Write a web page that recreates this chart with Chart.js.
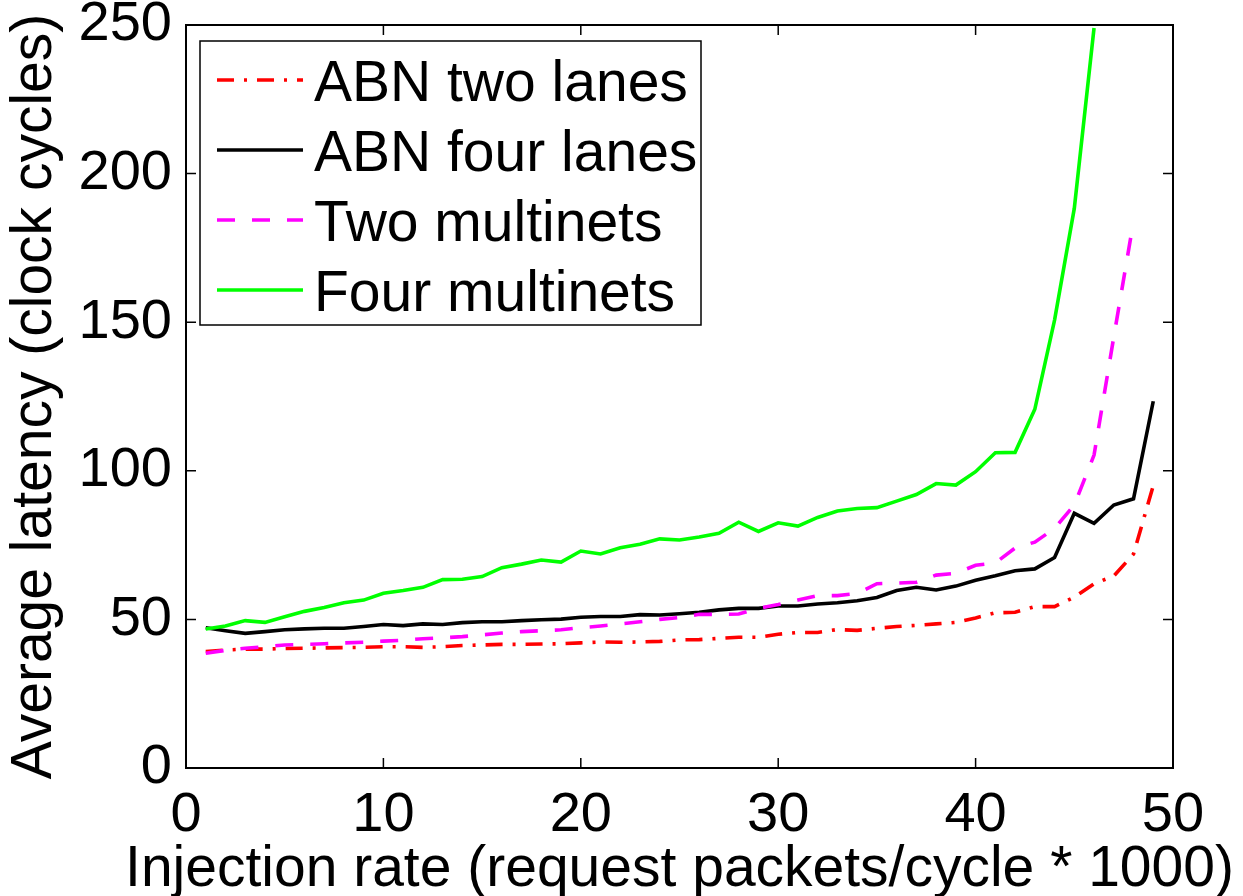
<!DOCTYPE html>
<html>
<head>
<meta charset="utf-8">
<title>Average latency vs injection rate</title>
<script src="https://cdn.jsdelivr.net/npm/chart.js@4/dist/chart.umd.min.js"></script>
<style>
  html, body { margin: 0; padding: 0; background: #fff; }
  #wrap { width: 1243px; height: 896px; position: relative; }
</style>
</head>
<body>
<div id="wrap"><canvas id="chart"></canvas></div>
<script>
'use strict';

const FONT = '"Liberation Sans", Arial, Helvetica, sans-serif';

// injection rate (request packets/cycle * 1000)
const rates = [
  1, 2, 3, 4, 5, 6, 7, 8, 9, 10,
  11, 12, 13, 14, 15, 16, 17, 18, 19, 20,
  21, 22, 23, 24, 25, 26, 27, 28, 29, 30,
  31, 32, 33, 34, 35, 36, 37, 38, 39, 40,
  41, 42, 43, 44, 45, 46, 47, 48, 49
];

const abnTwoLanes = [
  39.2, 39.7, 40.0, 40.0, 40.2, 40.3, 40.4, 40.5, 40.6, 40.8,
  40.8, 40.6, 40.8, 41.2, 41.4, 41.6, 41.6, 41.7, 41.8, 42.1,
  42.4, 42.3, 42.4, 42.6, 43.1, 43.2, 43.6, 44.0, 44.0, 45.0,
  45.6, 45.6, 46.6, 46.3, 47.0, 47.6, 48.0, 48.5, 49.0, 50.5,
  52.2, 52.4, 54.3, 54.3, 57.5, 62.0, 64.6, 72.0, 95.0
];

const abnFourLanes = [
  47.2, 46.2, 45.3, 45.9, 46.5, 46.8, 47.0, 47.0, 47.6, 48.3,
  47.9, 48.5, 48.3, 48.9, 49.2, 49.2, 49.6, 49.9, 50.1, 50.7,
  51.0, 51.0, 51.6, 51.5, 51.9, 52.4, 53.2, 53.7, 53.7, 54.5,
  54.5, 55.2, 55.6, 56.3, 57.4, 59.7, 60.8, 59.9, 61.2, 63.2,
  64.7, 66.4, 67.0, 70.8, 85.7, 82.3, 88.5, 90.6, 123.4
];

const twoMultinets = [
  38.6, 39.6, 40.3, 40.8, 41.4, 41.6, 41.8, 42.1, 42.3, 42.7,
  43.0, 43.5, 43.8, 44.2, 44.8, 45.4, 45.9, 46.2, 46.5, 47.2,
  47.8, 48.5, 49.2, 50.0, 50.6, 51.7, 51.7, 51.8, 53.7, 55.0,
  56.5, 58.0, 58.0, 58.7, 62.0, 62.2, 62.5, 64.9, 65.5, 68.2,
  69.0, 74.0, 76.0, 80.6, 88.5, 105.3, 145.0, 184.0
];

const fourMultinets = [
  46.8, 47.8, 49.6, 49.0, 50.9, 52.7, 54.0, 55.6, 56.5, 58.8,
  59.7, 60.8, 63.4, 63.5, 64.4, 67.4, 68.6, 70.0, 69.3, 73.0,
  72.0, 74.1, 75.3, 77.1, 76.7, 77.7, 79.0, 82.7, 79.6, 82.5,
  81.4, 84.3, 86.5, 87.3, 87.6, 89.8, 92.0, 95.7, 95.2, 99.7,
  106.1, 106.2, 120.7, 150.7, 188.3, 249
];

const seriesNames = ['ABN two lanes', 'ABN four lanes', 'Two multinets', 'Four multinets'];
const xTitle = 'Injection rate (request packets/cycle * 1000)';
const yTitle = 'Average latency (clock cycles)';
const xTicks = [0, 10, 20, 30, 40, 50];
const yTicks = [0, 50, 100, 150, 200, 250];

function points(values) {
  return values.map((v, i) => ({ x: rates[i], y: v }));
}

function line(label, values, color, dash, order) {
  return {
    label,
    data: points(values),
    borderColor: color,
    backgroundColor: color,
    borderWidth: 3.6,
    borderDash: dash,
    pointRadius: 0,
    tension: 0,
    fill: false,
    order
  };
}

// MATLAB-style box with inward ticks on all four sides
const boxPlugin = {
  id: 'box',
  afterDraw(chart) {
    const { ctx, chartArea: a, scales } = chart;
    const len = 10;
    ctx.save();
    ctx.strokeStyle = '#000';
    ctx.lineWidth = 2;
    ctx.strokeRect(a.left, a.top, a.right - a.left, a.bottom - a.top);
    ctx.lineWidth = 1.5;
    ctx.beginPath();
    for (const t of scales.x.ticks) {
      const px = scales.x.getPixelForValue(t.value);
      ctx.moveTo(px, a.bottom);
      ctx.lineTo(px, a.bottom - len);
      ctx.moveTo(px, a.top);
      ctx.lineTo(px, a.top + len);
    }
    for (const t of scales.y.ticks) {
      const py = scales.y.getPixelForValue(t.value);
      ctx.moveTo(a.left, py);
      ctx.lineTo(a.left + len, py);
      ctx.moveTo(a.right, py);
      ctx.lineTo(a.right - len, py);
    }
    ctx.stroke();
    ctx.restore();
  }
};

// axis titles drawn by hand: the built-in ones get squeezed to the axis length
const titlePlugin = {
  id: 'axisTitles',
  afterDraw(chart) {
    const { ctx, chartArea: a } = chart;
    ctx.save();
    ctx.fillStyle = '#000';
    ctx.font = `57px ${FONT}`;
    ctx.textAlign = 'center';
    ctx.textBaseline = 'alphabetic';
    ctx.fillText(xTitle, (a.left + a.right) / 2, a.bottom + 118);
    ctx.translate(a.left - 135, (a.top + a.bottom) / 2);
    ctx.rotate(-Math.PI / 2);
    ctx.fillText(yTitle, 0, 0);
    ctx.restore();
  }
};

// legend box drawn inside the plot area, top left
const legendPlugin = {
  id: 'innerLegend',
  afterDraw(chart) {
    const { ctx, chartArea: a } = chart;
    const x0 = a.left + 14;
    const y0 = a.top + 16;
    const w = 501;
    const h = 284;
    const rowH = 70;
    ctx.save();
    ctx.fillStyle = '#fff';
    ctx.fillRect(x0, y0, w, h);
    ctx.strokeStyle = '#000';
    ctx.lineWidth = 1.5;
    ctx.strokeRect(x0, y0, w, h);

    chart.data.datasets.forEach((ds, i) => {
      const cy = y0 + 39 + i * rowH;
      ctx.strokeStyle = ds.borderColor;
      ctx.lineWidth = ds.borderWidth;
      ctx.setLineDash(ds.borderDash || []);
      ctx.beginPath();
      ctx.moveTo(x0 + 17, cy);
      ctx.lineTo(x0 + 103, cy);
      ctx.stroke();
      ctx.setLineDash([]);
      ctx.fillStyle = '#000';
      ctx.font = `57px ${FONT}`;
      ctx.textAlign = 'left';
      ctx.textBaseline = 'alphabetic';
      ctx.fillText(ds.label, x0 + 114, cy + 21);
    });
    ctx.restore();
  }
};

new Chart(document.getElementById('chart'), {
  type: 'line',
  data: {
    datasets: [
      line(seriesNames[0], abnTwoLanes, '#ff0000', [17, 10, 3, 10], 4),
      line(seriesNames[1], abnFourLanes, '#000000', [], 3),
      line(seriesNames[2], twoMultinets, '#ff00ff', [18, 17], 2),
      line(seriesNames[3], fourMultinets, '#00ff00', [], 1)
    ]
  },
  options: {
    responsive: true,
    maintainAspectRatio: false,
    animation: false,
    layout: { padding: { top: 25, right: 70, left: 0, bottom: 0 } },
    plugins: {
      legend: { display: false },
      tooltip: { enabled: false }
    },
    scales: {
      x: {
        type: 'linear',
        min: 0,
        max: 50,
        afterBuildTicks(scale) {
          scale.ticks = xTicks.map((v) => ({ value: v }));
        },
        afterFit(scale) {
          scale.height = 128;
          scale.paddingLeft = 0;
          scale.paddingRight = 0;
        },
        grid: { display: false, drawTicks: false },
        border: { display: false },
        ticks: {
          color: '#000',
          padding: 14,
          maxRotation: 0,
          font: { family: FONT, size: 56 }
        }
      },
      y: {
        type: 'linear',
        min: 0,
        max: 250,
        afterBuildTicks(scale) {
          scale.ticks = yTicks.map((v) => ({ value: v }));
        },
        afterFit(scale) {
          scale.width = 186;
          scale.paddingTop = 0;
          scale.paddingBottom = 0;
        },
        grid: { display: false, drawTicks: false },
        border: { display: false },
        ticks: {
          color: '#000',
          padding: 14,
          font: { family: FONT, size: 56 }
        }
      }
    }
  },
  plugins: [boxPlugin, legendPlugin, titlePlugin]
});
</script>
</body>
</html>
